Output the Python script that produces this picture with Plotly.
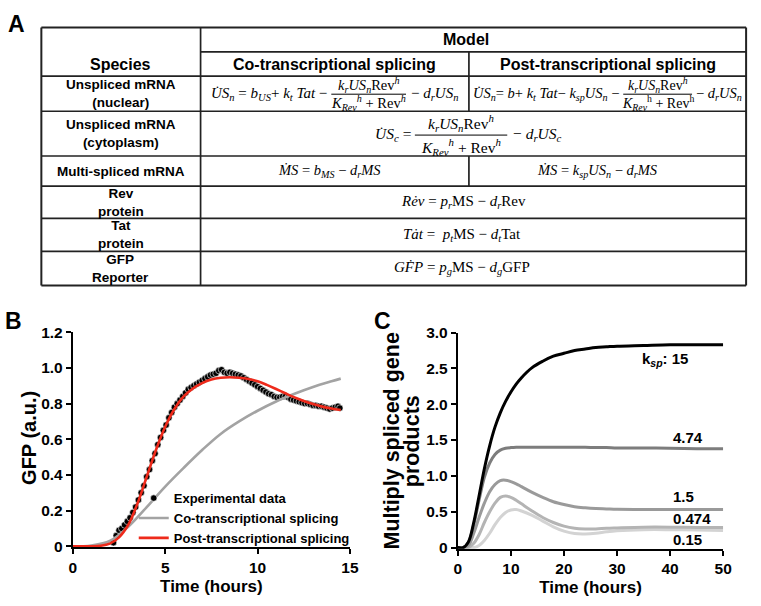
import plotly.graph_objects as go

W, H = 761, 606
def X(p): return p / W
def Y(p): return 1 - p / H

SANS = "Liberation Sans, Arial, Helvetica, sans-serif"
SERIF = "Liberation Serif, Times New Roman, serif"

# ---------------- Panel B data ----------------
exp_t = [2.20, 2.35, 2.50, 2.65, 2.80, 2.95, 3.10, 3.25, 3.40, 3.55, 3.70, 3.85, 4.00, 4.15, 4.30,
         4.45, 4.60, 4.75, 4.90, 5.05, 5.20, 5.35, 5.50, 5.65, 5.80, 5.95, 6.10, 6.25, 6.40, 6.55,
         6.70, 6.85, 7.00, 7.15, 7.30, 7.45, 7.60, 7.75, 7.90, 8.05, 8.20, 8.35, 8.50, 8.65, 8.80,
         8.95, 9.10, 9.25, 9.40, 9.55, 9.70, 9.85, 10.00, 10.15, 10.30, 10.45, 10.60, 10.75, 10.90,
         11.05, 11.20, 11.35, 11.50, 11.65, 11.80, 11.95, 12.10, 12.25, 12.40, 12.55, 12.70, 12.85,
         13.00, 13.15, 13.30, 13.45, 13.60, 13.75, 13.90, 14.05, 14.20, 14.35, 14.45]
exp_gfp = [0.02, 0.06, 0.09, 0.10, 0.12, 0.14, 0.16, 0.19, 0.22, 0.26, 0.30, 0.34, 0.39, 0.43, 0.48,
           0.52, 0.57, 0.61, 0.65, 0.68, 0.72, 0.75, 0.78, 0.80, 0.82, 0.84, 0.86, 0.88, 0.89, 0.90,
           0.91, 0.92, 0.93, 0.94, 0.95, 0.96, 0.965, 0.97, 0.985, 0.99, 0.975, 0.97, 0.975, 0.97, 0.965,
           0.96, 0.955, 0.945, 0.935, 0.925, 0.915, 0.905, 0.895, 0.885, 0.875, 0.865, 0.855, 0.85, 0.84,
           0.835, 0.835, 0.84, 0.84, 0.835, 0.825, 0.82, 0.815, 0.81, 0.805, 0.80, 0.80, 0.795,
           0.79, 0.79, 0.785, 0.785, 0.78, 0.775, 0.77, 0.775, 0.78, 0.785, 0.775]

co_t = [0, 1, 2, 3, 4, 5, 6, 7, 8, 9, 10, 11, 12, 13, 14, 14.5]
co_gfp = [0, 0.005, 0.03, 0.11, 0.22, 0.335, 0.44, 0.54, 0.63, 0.70, 0.76, 0.812, 0.855, 0.893, 0.925, 0.94]

post_t = [0, 1, 1.5, 2, 2.5, 3, 3.5, 4, 4.5, 5, 5.5, 6, 6.5, 7, 7.5, 8, 8.5, 9, 9.5, 10,
          10.5, 11, 11.5, 12, 12.5, 13, 13.5, 14, 14.5]
post_gfp = [0, 0, 0.003, 0.015, 0.05, 0.12, 0.24, 0.39, 0.54, 0.67, 0.77, 0.84, 0.885, 0.915,
            0.935, 0.945, 0.948, 0.945, 0.938, 0.925, 0.905, 0.882, 0.858, 0.835, 0.815, 0.798,
            0.783, 0.772, 0.764]

b_xticks = [0, 5, 10, 15]
b_yticks = [0, 0.2, 0.4, 0.6, 0.8, 1.0, 1.2]
b_yticktext = ["0", "0.2", "0.4", "0.6", "0.8", "1.0", "1.2"]

# ---------------- Panel C data ----------------
c_t = [0, 1, 2, 3, 4, 5, 6, 7, 8, 9, 10, 11, 12, 14, 16, 18, 20, 22, 24, 26, 28, 30, 35, 40, 45, 50]
ms_k15 = [0, 0.0, 0.08, 0.35, 0.72, 1.10, 1.42, 1.68, 1.88, 2.04, 2.17, 2.28, 2.37, 2.51, 2.60, 2.67,
          2.71, 2.75, 2.77, 2.79, 2.80, 2.81, 2.82, 2.83, 2.83, 2.83]
ms_k474 = [0, 0.0, 0.07, 0.32, 0.66, 0.98, 1.18, 1.30, 1.36, 1.385, 1.395, 1.40, 1.40, 1.40, 1.40, 1.40,
           1.40, 1.40, 1.40, 1.395, 1.395, 1.39, 1.39, 1.385, 1.38, 1.38]
ms_k15b = [0, 0.0, 0.03, 0.20, 0.42, 0.62, 0.78, 0.88, 0.935, 0.94, 0.92, 0.89, 0.85, 0.77, 0.70, 0.64,
           0.60, 0.57, 0.555, 0.545, 0.54, 0.535, 0.53, 0.53, 0.53, 0.53]
ms_k0474 = [0, 0, 0, 0.06, 0.18, 0.35, 0.50, 0.62, 0.70, 0.72, 0.70, 0.66, 0.61, 0.51, 0.42, 0.35,
            0.30, 0.27, 0.26, 0.26, 0.27, 0.275, 0.285, 0.285, 0.28, 0.28]
ms_k015 = [0, 0, 0, 0, 0.03, 0.10, 0.20, 0.32, 0.42, 0.49, 0.525, 0.53, 0.51, 0.45, 0.37, 0.29,
           0.23, 0.195, 0.19, 0.20, 0.22, 0.235, 0.25, 0.25, 0.245, 0.24]
c_series = [ms_k15, ms_k474, ms_k15b, ms_k0474, ms_k015]
c_names = ["k_sp = 15", "k_sp = 4.74", "k_sp = 1.5", "k_sp = 0.474", "k_sp = 0.15"]
c_colors = ["#000000", "#7d7d7d", "#9a9a9a", "#b4b4b4", "#d3d3d3"]
c_labels = ["k<sub><i>sp</i></sub>: 15", "4.74", "1.5", "0.474", "0.15"]
c_label_x = [34.3, 40.2, 40.2, 40.2, 40.2]
c_label_y = [2.63, 1.54, 0.71, 0.40, 0.11]
c_xticks = [0, 10, 20, 30, 40, 50]
c_yticks = [0, 0.5, 1.0, 1.5, 2.0, 2.5, 3.0]
c_yticktext = ["0", "0.5", "1.0", "1.5", "2.0", "2.5", "3.0"]

# ---------------- Table (panel A) text ----------------
header_species = "Species"
header_model = "Model"
header_cols = ["Co-transcriptional splicing", "Post-transcriptional splicing"]
row_labels = ["Unspliced mRNA<br>(nuclear)", "Unspliced mRNA<br>(cytoplasm)", "Multi-spliced mRNA",
              "Rev<br>protein", "Tat<br>protein", "GFP<br>Reporter"]
DOT = "\u0307"
frac_num = "<i>k<sub>r</sub>US<sub>n</sub></i>Rev<sup><i>h</i></sup>"
frac_den = "<i>K<sub>Rev</sub></i><sup><i>h</i></sup> + Rev<sup><i>h</i></sup>"
frac_den_post = "<i>K<sub>Rev</sub></i><sup>h</sup> + Rev<sup>h</sup>"
eq_nuc_co_left = "<i>U" + DOT + "S<sub>n</sub></i> = <i>b<sub>US</sub></i>+ <i>k<sub>t</sub> Tat</i> \u2212"
eq_nuc_post_left = ("<i>U" + DOT + "S<sub>n</sub></i>= <i>b</i>+ <i>k<sub>t</sub> Tat</i>\u2212 "
                    "<i>k<sub>sp</sub>US<sub>n</sub></i> \u2212")
eq_nuc_right = "\u2212 <i>d<sub>r</sub>US<sub>n</sub></i>"
eq_cyto_left = "<i>U" + DOT + "S<sub>c</sub></i> ="
eq_cyto_right = "\u2212 <i>d<sub>r</sub>US<sub>c</sub></i>"
eq_ms_co = "<i>\u1E40S</i> = <i>b<sub>MS</sub></i> \u2212 <i>d<sub>r</sub>MS</i>"
eq_ms_post = "<i>\u1E40S</i> = <i>k<sub>sp</sub>US<sub>n</sub></i> \u2212 <i>d<sub>r</sub>MS</i>"
eq_rev = "<i>Re" + DOT + "v</i> = <i>p<sub>r</sub></i>MS \u2212 <i>d<sub>r</sub></i>Rev"
eq_tat = "<i>Ta" + DOT + "t</i> =  <i>p<sub>t</sub></i>MS \u2212 <i>d<sub>t</sub></i>Tat"
eq_gfp = "<i>GF" + DOT + "P</i> = <i>p<sub>g</sub></i>MS \u2212 <i>d<sub>g</sub></i>GFP"

fig = go.Figure()

# Panel B traces
fig.add_trace(go.Scatter(x=exp_t, y=exp_gfp, mode="markers", name="Experimental data",
                         marker=dict(color="black", size=6.5, line=dict(color="white", width=0.6)),
                         xaxis="x", yaxis="y", cliponaxis=False))
fig.add_trace(go.Scatter(x=co_t, y=co_gfp, mode="lines", name="Co-transcriptional splicing",
                         line=dict(color="#a3a3a3", width=2.6, shape="spline"), xaxis="x", yaxis="y"))
fig.add_trace(go.Scatter(x=post_t, y=post_gfp, mode="lines", name="Post-transcriptional splicing",
                         line=dict(color="#ee2a1b", width=2.6, shape="spline"), xaxis="x", yaxis="y"))

# Panel C traces (drawn lightest first so darker curves sit on top)
for vals, nm, col in reversed(list(zip(c_series, c_names, c_colors))):
    fig.add_trace(go.Scatter(x=c_t, y=vals, mode="lines", name=nm, showlegend=False,
                             line=dict(color=col, width=3, shape="spline"), xaxis="x2", yaxis="y2"))

axis_common = dict(showline=True, linecolor="black", linewidth=2, ticks="outside", ticklen=5,
                   tickwidth=2, tickcolor="black", showgrid=False, zeroline=False,
                   tickfont=dict(family=SANS, size=15.5, color="black", weight="bold"))
title_font = dict(family=SANS, size=17, color="black", weight="bold")

fig.update_layout(
    width=W, height=H, margin=dict(l=0, r=0, t=0, b=0),
    paper_bgcolor="white", plot_bgcolor="white",
    xaxis=dict(domain=[X(70), X(352)], range=[0, 15], tickvals=b_xticks, anchor="y",
               title=dict(text="Time (hours)", font=title_font, standoff=5), **axis_common),
    yaxis=dict(domain=[Y(553), Y(332)], range=[-0.006, 1.2], tickvals=b_yticks, ticktext=b_yticktext,
               anchor="x", **axis_common),
    xaxis2=dict(domain=[X(461.7), X(731.7)], range=[0, 50], tickvals=c_xticks, anchor="y2",
                title=dict(text="Time (hours)", font=title_font, standoff=5), **axis_common),
    yaxis2=dict(domain=[Y(554.3), Y(332.3)], range=[-0.015, 3.0], tickvals=c_yticks,
                ticktext=c_yticktext, anchor="x2", **axis_common),
    legend=dict(x=X(132), y=Y(487), xanchor="left", yanchor="top", bgcolor="rgba(0,0,0,0)",
                font=dict(family=SANS, size=13, color="black", weight="bold"),
                tracegroupgap=0, itemwidth=30),
    showlegend=True,
)

ann = []
def txt(x, y, s, size, family=SANS, bold=False, xanchor="center", angle=0, xref="paper", yref="paper"):
    f = dict(family=family, size=size, color="black")
    if bold:
        f["weight"] = "bold"
    ann.append(dict(x=x if xref != "paper" else X(x), y=y if yref != "paper" else Y(y), text=s,
                    showarrow=False, xanchor=xanchor, yanchor="middle", font=f, textangle=angle,
                    xref=xref, yref=yref))

# panel letters
txt(13, 15, "A", 23, bold=True)
txt(10, 320, "B", 23, bold=True)
txt(385, 320, "C", 23, bold=True)

# y-axis titles
txt(26, 441, "GFP (a.u.)", 20, bold=True, angle=-90)
txt(395, 444, "Multiply spliced gene", 21.5, bold=True, angle=-90)
txt(415, 444, "products", 21.5, bold=True, angle=-90)

# Panel C curve labels
for lab, lx, ly in zip(c_labels, c_label_x, c_label_y):
    txt(lx, ly, lab, 15, bold=True, xanchor="left", xref="x2", yref="y2")

# ---- table ----
shapes = []
def hline(x0, x1, y, w=1.7):
    shapes.append(dict(type="line", xref="paper", yref="paper", x0=X(x0), x1=X(x1), y0=Y(y), y1=Y(y),
                       line=dict(color="#222222", width=w)))
def vline(x, y0, y1, w=1.7):
    shapes.append(dict(type="line", xref="paper", yref="paper", x0=X(x), x1=X(x), y0=Y(y0), y1=Y(y1),
                       line=dict(color="#222222", width=w)))

TL, TR, TT, TB = 38, 755, 19, 284
rows_y = [69, 105, 151, 182, 215, 249]
for yy in rows_y:
    hline(TL, TR, yy)
hline(200, TR, 44)
hline(TL, TR, TT, 2)
hline(TL, TR, TB, 2)
vline(TL, TT, TB, 2)
vline(TR, TT, TB, 2)
vline(200, TT, TB)
vline(473, 44, 105)
vline(473, 151, 182)

txt(470, 31.5, header_model, 16, bold=True)
txt(119, 57, header_species, 16, bold=True)
txt(336, 57, header_cols[0], 16, bold=True)
txt(614, 57, header_cols[1], 16, bold=True)
row_centers = [87, 128, 166.5, 198.5, 232, 266.5]
for lab, yc in zip(row_labels, row_centers):
    txt(119, yc, lab, 13.5, bold=True)

def frac(xc, width, ynum, ybar, yden, num, den, size):
    txt(xc, ynum, num, size, family=SERIF)
    txt(xc, yden, den, size, family=SERIF)
    shapes.append(dict(type="line", xref="paper", yref="paper", x0=X(xc - width / 2), x1=X(xc + width / 2),
                       y0=Y(ybar), y1=Y(ybar), line=dict(color="black", width=1)))

# nuclear row, co-transcriptional
txt(331, 87, eq_nuc_co_left, 15, family=SERIF, xanchor="right")
frac(371, 76, 78, 87.5, 96.5, frac_num, frac_den, 14.5)
txt(412, 87, eq_nuc_right, 15, family=SERIF, xanchor="left")
# nuclear row, post-transcriptional
txt(628, 87, eq_nuc_post_left, 14.5, family=SERIF, xanchor="right")
frac(665, 70, 78, 87.5, 96.5, frac_num, frac_den_post, 14)
txt(702, 87, eq_nuc_right, 14.5, family=SERIF, xanchor="left")
# cytoplasm row
txt(416, 129, eq_cyto_left, 15.5, family=SERIF, xanchor="right")
frac(465, 94, 117.5, 129.5, 141.5, frac_num, frac_den, 15.5)
txt(516, 129, eq_cyto_right, 15.5, family=SERIF, xanchor="left")
# MS row
txt(331, 166.5, eq_ms_co, 14.5, family=SERIF)
txt(604, 166.5, eq_ms_post, 14.5, family=SERIF)
# Rev / Tat / GFP rows
txt(467, 198.5, eq_rev, 15, family=SERIF)
txt(466, 232, eq_tat, 15, family=SERIF)
txt(466, 266.5, eq_gfp, 15, family=SERIF)

fig.update_layout(annotations=ann, shapes=shapes)
fig.write_html("out.html", config={"displayModeBar": False},
               post_script="document.body.style.margin='0px';document.body.style.overflow='hidden';")
